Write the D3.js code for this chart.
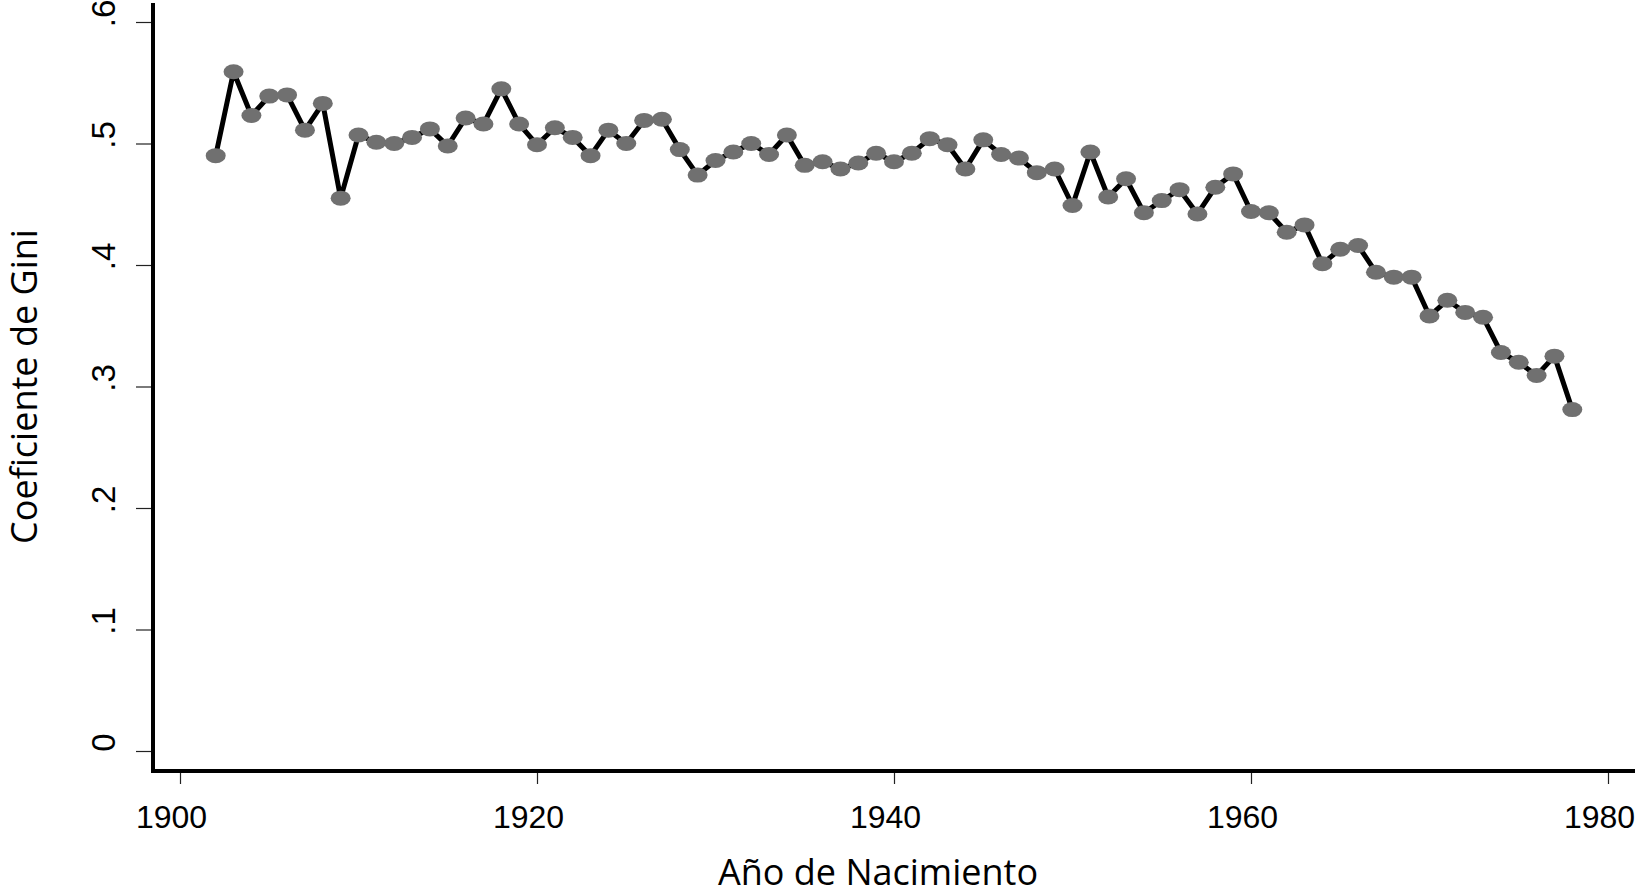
<!DOCTYPE html>
<html>
<head>
<meta charset="utf-8">
<script src="https://cdn.jsdelivr.net/npm/d3@7/dist/d3.min.js"></script>
<style>
  body { margin: 0; background: #fff; }
  svg { display: block; font-family: "Open Sans", sans-serif; }
</style>
</head>
<body>
<div id="chart"></div>
<script>
// birth cohorts 1902..1978
const years = [
  1902, 1903, 1904, 1905, 1906, 1907, 1908, 1909, 1910, 1911,
  1912, 1913, 1914, 1915, 1916, 1917, 1918, 1919, 1920, 1921,
  1922, 1923, 1924, 1925, 1926, 1927, 1928, 1929, 1930, 1931,
  1932, 1933, 1934, 1935, 1936, 1937, 1938, 1939, 1940, 1941,
  1942, 1943, 1944, 1945, 1946, 1947, 1948, 1949, 1950, 1951,
  1952, 1953, 1954, 1955, 1956, 1957, 1958, 1959, 1960, 1961,
  1962, 1963, 1964, 1965, 1966, 1967, 1968, 1969, 1970, 1971,
  1972, 1973, 1974, 1975, 1976, 1977, 1978
];

const gini = [
  0.490, 0.559, 0.523, 0.539, 0.540, 0.511, 0.533, 0.455, 0.507, 0.501,
  0.500, 0.505, 0.512, 0.498, 0.521, 0.516, 0.545, 0.516, 0.499, 0.513,
  0.505, 0.490, 0.511, 0.500, 0.519, 0.520, 0.495, 0.474, 0.486, 0.493,
  0.500, 0.491, 0.507, 0.482, 0.485, 0.479, 0.484, 0.492, 0.485, 0.492,
  0.504, 0.499, 0.479, 0.503, 0.491, 0.488, 0.476, 0.479, 0.449, 0.493,
  0.456, 0.471, 0.443, 0.453, 0.462, 0.442, 0.464, 0.475, 0.444, 0.443,
  0.427, 0.433, 0.401, 0.413, 0.416, 0.394, 0.390, 0.390, 0.358, 0.371,
  0.361, 0.357, 0.328, 0.320, 0.309, 0.325, 0.281
];

const yTicks = [0, 0.1, 0.2, 0.3, 0.4, 0.5, 0.6];
const yTickLabels = ["0", ".1", ".2", ".3", ".4", ".5", ".6"];
const xTicks = [1900, 1920, 1940, 1960, 1980];

const xTitle = "Año de Nacimiento";
const yTitle = "Coeficiente de Gini";

let width = 1637;
let height = 896;

let axisX = 153;   // left axis line
let axisY = 771;   // bottom axis line

let data = years.map((d, i) => ({ year: d, value: gini[i] }));

let svg = d3
  .select("#chart")
  .append("svg")
  .attr("width", width)
  .attr("height", height);

let x = d3.scaleLinear().domain([1900, 1980]).range([180, 1608]);
let y = d3.scaleLinear().domain([0, 0.6]).range([751, 22]);

// Y axis
let yAxis = d3
  .axisLeft(y)
  .tickValues(yTicks)
  .tickSize(17)
  .tickFormat((d, i) => yTickLabels[i]);

let yAxisGroup = svg
  .append("g")
  .attr("class", "y axis")
  .attr("transform", "translate(" + axisX + ",0)")
  .call(yAxis);

yAxisGroup.select(".domain").remove();
yAxisGroup.selectAll(".tick line").attr("stroke", "#222").attr("stroke-width", 1.2);
// labels sit a bit above the tick, like the original
yAxisGroup
  .selectAll(".tick text")
  .attr("transform", "rotate(-90)")
  .attr("x", 9)
  .attr("y", -38)
  .attr("dy", 0)
  .attr("text-anchor", "middle")
  .attr("font-size", 33)
  .attr("fill", "#000");

// X axis
let xAxis = d3
  .axisBottom(x)
  .tickValues(xTicks)
  .tickSize(13)
  .tickFormat(d3.format("d"));

let xAxisGroup = svg
  .append("g")
  .attr("class", "x axis")
  .attr("transform", "translate(0," + axisY + ")")
  .call(xAxis);

xAxisGroup.select(".domain").remove();
xAxisGroup.selectAll(".tick line").attr("stroke", "#222").attr("stroke-width", 1.2);
xAxisGroup
  .selectAll(".tick text")
  .attr("x", -9)
  .attr("y", 57)
  .attr("dy", 0)
  .attr("font-size", 32)
  .attr("fill", "#000");

// thick axis lines
svg
  .append("line")
  .attr("x1", axisX)
  .attr("x2", axisX)
  .attr("y1", 3)
  .attr("y2", axisY + 2)
  .attr("stroke", "#000")
  .attr("stroke-width", 4);

svg
  .append("line")
  .attr("x1", axisX - 2)
  .attr("x2", 1635)
  .attr("y1", axisY)
  .attr("y2", axisY)
  .attr("stroke", "#000")
  .attr("stroke-width", 4);

// titles
svg
  .append("text")
  .attr("x", 878)
  .attr("y", 885)
  .attr("text-anchor", "middle")
  .attr("font-size", 36)
  .text(xTitle);

svg
  .append("text")
  .attr("transform", "translate(37," + (22 + 751) / 2 + ") rotate(-90)")
  .attr("text-anchor", "middle")
  .attr("font-size", 36)
  .text(yTitle);

// line
let line = d3
  .line()
  .x(d => x(d.year))
  .y(d => y(d.value));

svg
  .append("path")
  .datum(data)
  .attr("d", line)
  .attr("fill", "none")
  .attr("stroke", "#000")
  .attr("stroke-width", 5)
  .attr("stroke-linejoin", "round");

// markers
svg
  .selectAll(".pt")
  .data(data)
  .enter()
  .append("ellipse")
  .attr("class", "pt")
  .attr("cx", d => x(d.year))
  .attr("cy", d => y(d.value))
  .attr("rx", 10)
  .attr("ry", 7.5)
  .attr("fill", "#707070");
</script>
</body>
</html>
